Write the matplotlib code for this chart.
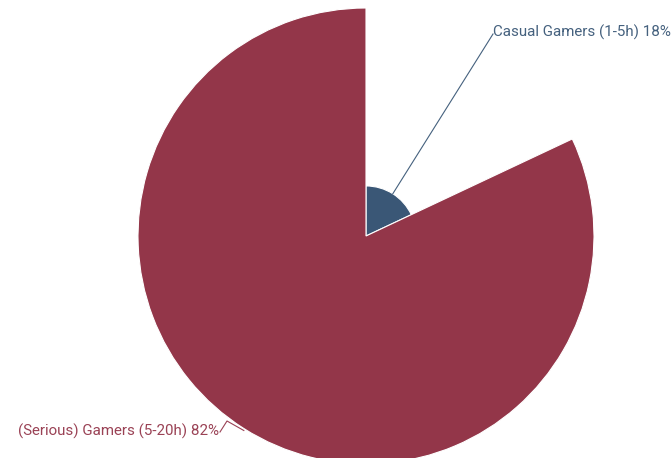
import matplotlib
matplotlib.use("Agg")
import matplotlib.pyplot as plt
from matplotlib.patches import Wedge
import numpy as np

categories = ["Casual Gamers (1-5h)", "(Serious) Gamers (5-20h)"]
values = [18, 82]
colors = ["#3a5776", "#933649"]
label_colors = ["#45617e", "#9a4255"]

W, H = 671, 458
fig = plt.figure(figsize=(W / 100, H / 100), dpi=100)
ax = fig.add_axes([0, 0, 1, 1])
ax.set_xlim(0, W)
ax.set_ylim(H, 0)
ax.set_aspect("equal")
ax.axis("off")

cx, cy = 366, 236
rmax = 228
total = sum(values)
vmax = max(values)

start = 90.0
mids = []
radii = []
for v, c in zip(values, colors):
    sweep = 360.0 * v / total
    r = rmax * v / vmax
    a1 = start - sweep
    a2 = start
    w = Wedge((cx, cy), r, -a2, -a1, facecolor=c, edgecolor="white", linewidth=0.8)
    ax.add_patch(w)
    mids.append(start - sweep / 2)
    radii.append(r)
    start -= sweep

# Blue (casual)
m = np.deg2rad(mids[0])
ex, ey = cx + radii[0] * np.cos(m), cy - radii[0] * np.sin(m)
tx, ty = 493, 34
ax.plot([ex, tx], [ey, ty], color=label_colors[0], lw=0.8)
ax.text(tx, ty - 2, f"{categories[0]} {values[0]}%", color=label_colors[0],
        fontsize=10.9, family="Roboto", ha="left", va="center")

# Red (serious)
m = np.deg2rad(mids[1])
ex, ey = cx + radii[1] * np.cos(m), cy - radii[1] * np.sin(m)
ax.plot([ex, 227, 220], [ey + 2, 421, 432], color=label_colors[1], lw=0.8)
ax.text(219, 431, f"{categories[1]} {values[1]}%", color=label_colors[1],
        fontsize=10.9, family="Roboto", ha="right", va="center")

fig.savefig("out.png", dpi=100)
